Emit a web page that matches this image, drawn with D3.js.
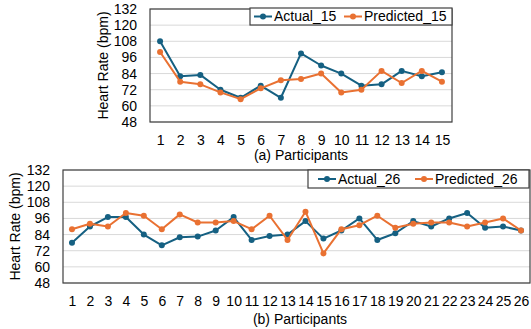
<!doctype html>
<html lang="en">
<head>
<meta charset="utf-8">
<title>Heart rate: actual vs predicted</title>
<script src="https://cdn.jsdelivr.net/npm/d3@7"></script>
<style>
	body { margin: 0; background: #fff; }
	svg { display: block; font-family: "Liberation Sans", Arial, sans-serif; }
</style>
</head>
<body>
<div id="chart"></div>
<script>
	// data ---------------------------
	var yTicks = [48, 60, 72, 84, 96, 108, 120, 132];

	var participants15 = d3.range(1, 16);
	var actual15 = [108, 82, 83, 72, 66, 75, 66, 99, 90, 84, 75, 76, 86, 82, 85];
	var predicted15 = [100, 78, 76, 70, 65, 73, 79, 80, 84, 70, 72, 86, 77, 86, 78];

	var participants26 = d3.range(1, 27);
	var actual26 = [78, 90, 97, 97, 84, 76, 82, 82.5, 87, 97, 80, 83, 84, 94, 81, 87, 96, 80, 85, 94, 90, 96, 100, 89, 90, 87];
	var predicted26 = [88, 92, 90, 100, 98, 88, 99, 93, 93, 94, 88, 98, 80, 101, 70, 88, 91, 98, 89, 92, 93, 93, 90, 93, 96, 87];

	var blue = "#156082", orange = "#e97132";

	var svg = d3.select("#chart").append("svg")
		.attr("width", 531)
		.attr("height", 329);

	function drawPanel(opt) {
		var x = d3.scalePoint().domain(opt.cats).range([opt.left, opt.right]).padding(0.5);
		var y = d3.scaleLinear().domain([48, 132]).range([opt.bottom, opt.top]);
		var g = svg.append("g");

		// gridlines
		g.selectAll(".grid").data(yTicks).enter().append("line")
			.attr("x1", opt.left).attr("x2", opt.right)
			.attr("y1", function (d) { return y(d); })
			.attr("y2", function (d) { return y(d); })
			.attr("stroke", "#d9d9d9").attr("stroke-width", 1);

		// y axis labels
		var ya = g.append("g")
			.attr("transform", "translate(" + opt.left + ",0)")
			.call(d3.axisLeft(y).tickValues(yTicks).tickSize(0).tickPadding(13));
		ya.select(".domain").remove();
		ya.selectAll("text").attr("font-size", 14).attr("fill", "#000").attr("font-family", null);

		// x axis labels
		var xa = g.append("g")
			.attr("transform", "translate(0," + opt.bottom + ")")
			.call(d3.axisBottom(x).tickSize(0).tickPadding(13));
		xa.select(".domain").remove();
		xa.selectAll("text").attr("font-size", 14).attr("fill", "#000").attr("font-family", null);

		// plot border
		g.append("rect")
			.attr("x", opt.left).attr("y", opt.top)
			.attr("width", opt.right - opt.left).attr("height", opt.bottom - opt.top)
			.attr("fill", "none").attr("stroke", "#404040").attr("stroke-width", 1.2);

		// series
		var line = d3.line()
			.x(function (d, i) { return x(opt.cats[i]); })
			.y(function (d) { return y(d); });

		[[opt.actual, blue], [opt.predicted, orange]].forEach(function (s) {
			g.append("path")
				.datum(s[0])
				.attr("fill", "none").attr("stroke", s[1]).attr("stroke-width", 2)
				.attr("stroke-linejoin", "round")
				.attr("d", line);
			g.selectAll(null).data(s[0]).enter().append("circle")
				.attr("cx", function (d, i) { return x(opt.cats[i]); })
				.attr("cy", function (d) { return y(d); })
				.attr("r", 3)
				.attr("fill", s[1]);
		});

		// axis titles
		g.append("text")
			.attr("transform", "translate(" + opt.yLabelX + "," + ((opt.top + opt.bottom) / 2) + ") rotate(-90)")
			.attr("text-anchor", "middle").attr("dy", "0.35em")
			.attr("font-size", 14)
			.text("Heart Rate (bpm)");
		g.append("text")
			.attr("x", opt.titleX).attr("y", opt.titleY)
			.attr("text-anchor", "middle")
			.attr("font-size", 14)
			.text(opt.title);

		// legend
		var lg = g.append("g");
		lg.append("rect")
			.attr("x", opt.legend.x).attr("y", opt.legend.y)
			.attr("width", opt.legend.w).attr("height", opt.legend.h)
			.attr("fill", "#fff").attr("stroke", "#404040").attr("stroke-width", 1.2);
		opt.legend.items.forEach(function (it) {
			var cy = opt.legend.y + opt.legend.h / 2;
			lg.append("line")
				.attr("x1", it.x).attr("x2", it.x + 18)
				.attr("y1", cy).attr("y2", cy)
				.attr("stroke", it.color).attr("stroke-width", 2);
			lg.append("circle")
				.attr("cx", it.x + 9).attr("cy", cy).attr("r", 3)
				.attr("fill", it.color);
			lg.append("text")
				.attr("x", it.x + 20).attr("y", cy).attr("dy", "0.35em")
				.attr("font-size", 14)
				.text(it.label);
		});
	}

	drawPanel({
		cats: participants15, actual: actual15, predicted: predicted15,
		left: 150, right: 452, top: 9, bottom: 122,
		yLabelX: 103, titleX: 301, titleY: 160, title: "(a) Participants",
		legend: {
			x: 250, y: 8, w: 202, h: 17,
			items: [
				{ x: 254, color: blue, label: "Actual_15" },
				{ x: 344, color: orange, label: "Predicted_15" }
			]
		}
	});

	drawPanel({
		cats: participants26, actual: actual26, predicted: predicted26,
		left: 63, right: 530, top: 170, bottom: 283,
		yLabelX: 15, titleX: 300, titleY: 324, title: "(b) Participants",
		legend: {
			x: 308, y: 170, w: 221, h: 18,
			items: [
				{ x: 318, color: blue, label: "Actual_26" },
				{ x: 415, color: orange, label: "Predicted_26" }
			]
		}
	});
</script>
</body>
</html>
